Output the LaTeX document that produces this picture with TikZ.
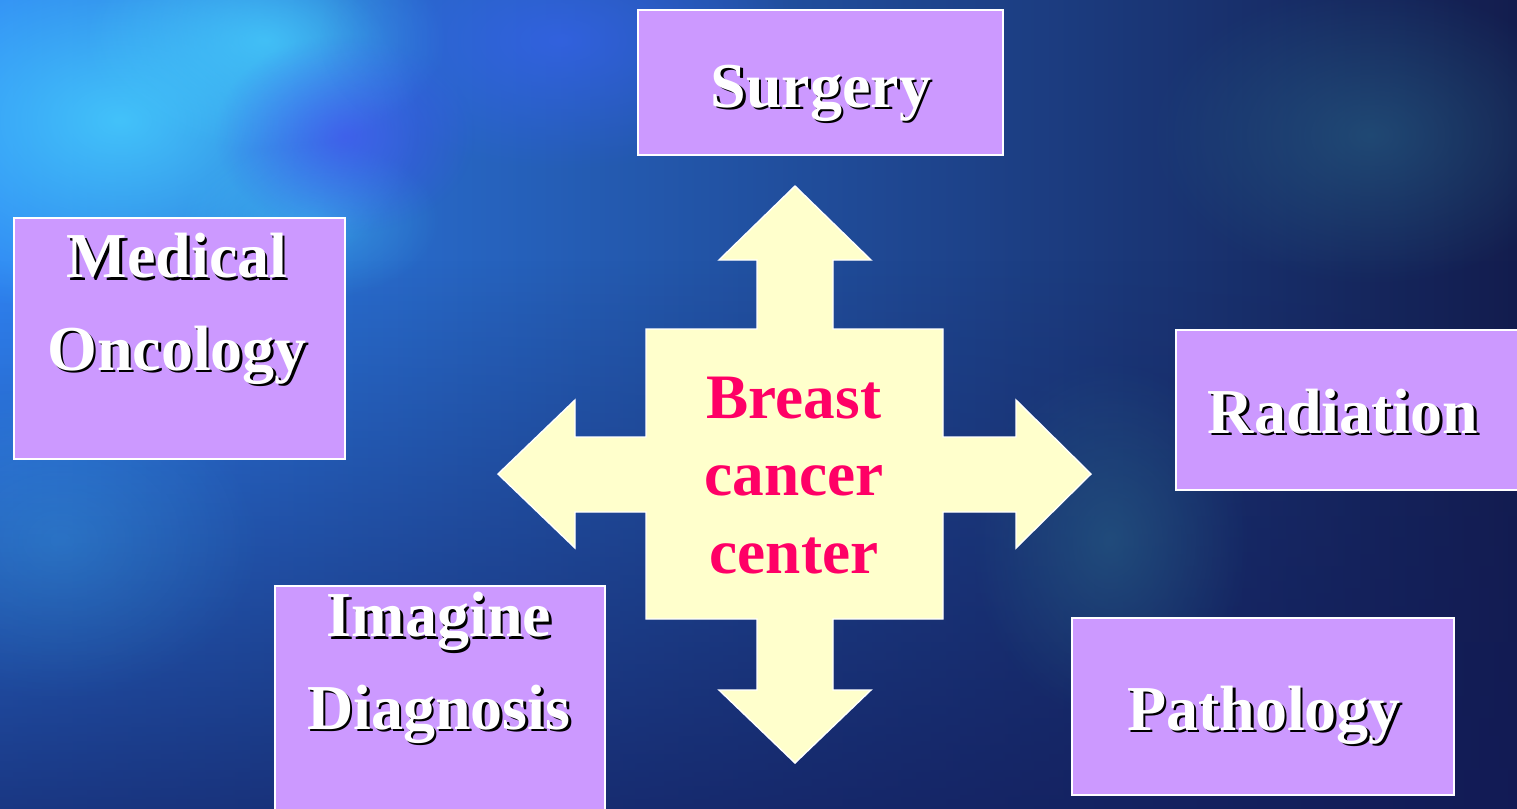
\documentclass[tikz,border=0pt]{standalone}
\usepackage{fontspec}
\setmainfont{Liberation Serif}
\definecolor{bgleft}{HTML}{2F84F4}
\definecolor{bgmid}{HTML}{2A40CC}
\definecolor{bgright}{HTML}{131C4C}
\definecolor{bgdeep}{HTML}{121A58}
\definecolor{glowcyan}{HTML}{48D4FF}
\definecolor{glowblue}{HTML}{3A64F8}
\definecolor{glowviolet}{HTML}{4A4CF8}
\definecolor{glowteal}{HTML}{2A6A8A}
\definecolor{deptfill}{HTML}{CC99FF}
\definecolor{hubfill}{HTML}{FFFFCC}
\definecolor{hubtext}{HTML}{FF0066}
\usepackage{tikz}
\usetikzlibrary{fadings}

\tikzfading[name=softglow, inner color=transparent!0, outer color=transparent!100]
\newcommand{\shadowed}[1]{\rlap{\kern0.025cm\raisebox{-0.025cm}{\color{black}#1}}#1}

\begin{document}
\begin{tikzpicture}[x=0.01cm, y=-0.01cm,
		dept/.style={draw=white, line width=0.7pt, fill=deptfill, inner sep=0pt},
		deptlabel/.style={text=white, font=\fontsize{18.2}{26.2}\selectfont\bfseries, align=center, inner sep=0pt},
		hublabel/.style={text=hubtext, font=\fontsize{18}{21.9}\selectfont\bfseries, align=center, inner sep=0pt},
		glow/.style={fill=#1, path fading=softglow}
	]
	\useasboundingbox (0,0) rectangle (1517,808);
	\clip (0,0) rectangle (1517,808);
	% background
	\shade[left color=bgleft, middle color=bgmid, right color=bgright] (-10,-10) rectangle (1530,820);
	\fill[bgdeep, path fading=north, opacity=0.75] (-10,260) rectangle (1530,830);
	\fill[glow=glowcyan, opacity=0.8] (120,120) ellipse (300 and 200);
	\fill[glow=glowcyan, opacity=0.7] (265,40) ellipse (180 and 110);
	\fill[glow=glowcyan, opacity=0.4] (310,220) ellipse (130 and 80);
	\fill[glow=glowviolet, opacity=0.6] (345,135) ellipse (130 and 100);
	\fill[glow=glowblue, opacity=0.6] (560,40) ellipse (240 and 130);
	\fill[glow=glowteal, opacity=0.5] (1370,135) ellipse (220 and 150);
	\fill[glow=glowteal, opacity=0.5] (1110,540) ellipse (140 and 180);
	\fill[glow=glowcyan, opacity=0.2] (60,540) ellipse (200 and 160);

	% the cross
	\fill[hubfill, draw=white, line width=0.4pt]
	(795,186) -- (871,260) -- (833,260) -- (833,329) -- (943,329) -- (943,437)
	-- (1016,437) -- (1016,400) -- (1091,474) -- (1016,548) -- (1016,512) -- (943,512)
	-- (943,619) -- (833,619) -- (833,690) -- (871,690) -- (795,763) -- (719,690)
	-- (757,690) -- (757,619) -- (646,619) -- (646,512) -- (575,512) -- (575,548)
	-- (498,474) -- (575,400) -- (575,437) -- (646,437) -- (646,329) -- (757,329)
	-- (757,260) -- (719,260) -- cycle;
	\node[hublabel, anchor=base] (hub) at (794,573) {Breast\\cancer\\center};

	% departments
	\node[dept, minimum width=3.65cm, minimum height=1.45cm] (surgery) at (820.5,82.5) {};
	\node[dept, minimum width=3.31cm, minimum height=2.41cm] (oncology) at (179.5,338.5) {};
	\node[dept, minimum width=3.60cm, minimum height=1.60cm] (radiation) at (1356,410) {};
	\node[dept, minimum width=3.30cm, minimum height=2.60cm] (imaging) at (440,716) {};
	\node[dept, minimum width=3.82cm, minimum height=1.77cm] (pathology) at (1263,706.5) {};

	\node[deptlabel, anchor=base] (surgerytext) at (821,107) {\shadowed{Surgery}};
	\node[deptlabel, anchor=base] (oncologytext) at (177,370) {\shadowed{Medical}\\\shadowed{Oncology}};
	\node[deptlabel, anchor=base] (radiationtext) at (1343,433) {\shadowed{Radiation}};
	\node[deptlabel, anchor=base] (imagingtext) at (439,729) {\shadowed{Imagine}\\\shadowed{Diagnosis}};
	\node[deptlabel, anchor=base] (pathologytext) at (1264,730) {\shadowed{Pathology}};
\end{tikzpicture}
\end{document}
